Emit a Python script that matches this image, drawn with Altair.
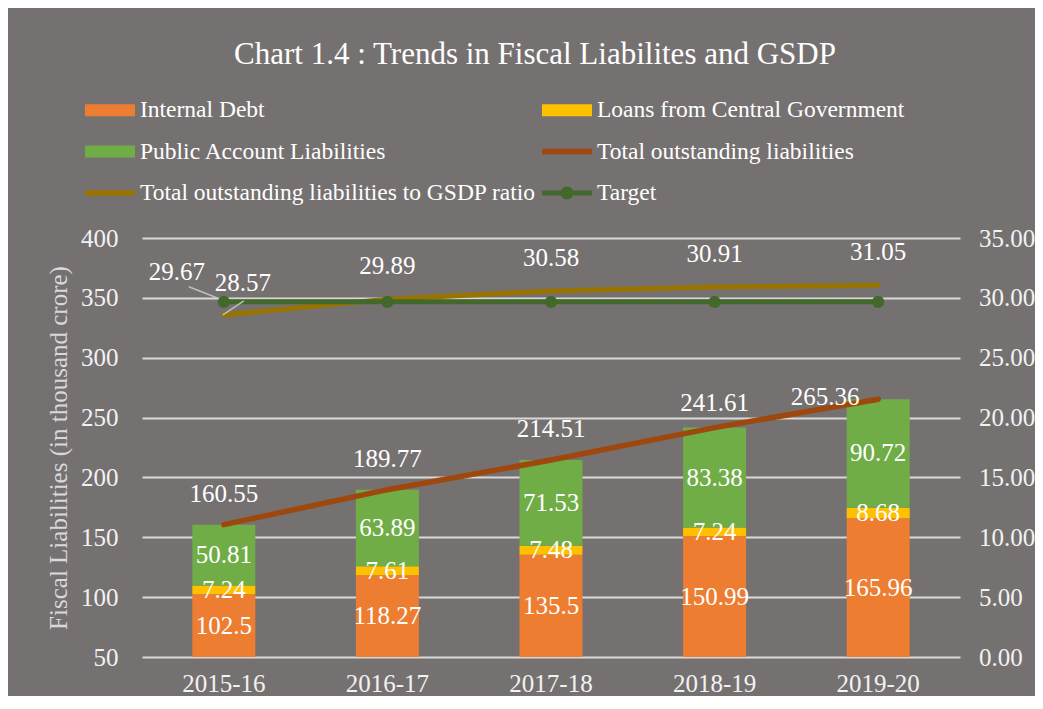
import altair as alt
import pandas as pd

# ---------------- data ----------------
years = ["2015-16", "2016-17", "2017-18", "2018-19", "2019-20"]
internal_debt = [102.5, 118.27, 135.5, 150.99, 165.96]
central_loans = [7.24, 7.61, 7.48, 7.24, 8.68]
public_account = [50.81, 63.89, 71.53, 83.38, 90.72]
total_liabilities = [160.55, 189.77, 214.51, 241.61, 265.36]
gsdp_ratio = [28.57, 29.89, 30.58, 30.91, 31.05]
target = [29.67, 29.67, 29.67, 29.67, 29.67]

series_names = [
    "Internal Debt",
    "Loans from Central Government",
    "Public Account Liabilities",
    "Total outstanding liabilities",
    "Total outstanding liabilities to GSDP ratio",
    "Target",
]
series_colors = ["#ED7D31", "#FFC000", "#70AD47", "#9E480E", "#997300", "#43682B"]
legend_shapes = [
    "M-1,-0.24H1V0.24H-1Z",
    "M-1,-0.24H1V0.24H-1Z",
    "M-1,-0.24H1V0.24H-1Z",
    "M-1,-0.11H1V0.11H-1Z",
    "M-1,-0.11H1V0.11H-1Z",
    "M-1,-0.1H1V0.1H-1ZM-0.26,0A0.26,0.26,0,1,1,0.26,0A0.26,0.26,0,1,1,-0.26,0Z",
]
left_ticks = [50, 100, 150, 200, 250, 300, 350, 400]
right_ticks = [0, 5, 10, 15, 20, 25, 30, 35]

chart_title = "Chart 1.4 : Trends in Fiscal Liabilites and GSDP"
left_title = "Fiscal Liabilities (in thousand crore)"

# ---------------- style ----------------
FONT = "Liberation Serif"
BG = "#767171"
TXT = "#FFFFFF"
AXT = "#F2F2F2"

bar_rows = []
stack_parts = [internal_debt, central_loans, public_account]
for i, yr in enumerate(years):
    for k, vals in enumerate(stack_parts):
        bar_rows.append({"year": yr, "series": series_names[k], "order": k,
                         "value": vals[i], "label": str(vals[i])})
bars_df = pd.DataFrame(bar_rows)

line_df = pd.DataFrame({
    "year": years,
    "total": total_liabilities,
    "ratio": gsdp_ratio,
    "target": target,
    "total_label": [str(v) for v in total_liabilities],
    "ratio_label": [str(v) for v in gsdp_ratio],
    "target_label": [str(v) for v in target],
})
legend_df = pd.DataFrame({"series": series_names})

x_scale = alt.Scale(paddingInner=0.615, paddingOuter=0.3077)
left_scale = alt.Scale(domain=[left_ticks[0], left_ticks[-1]])
right_scale = alt.Scale(domain=[right_ticks[0], right_ticks[-1]])
color_scale = alt.Scale(domain=series_names, range=series_colors)
shape_scale = alt.Scale(domain=series_names, range=legend_shapes)

x_axis = alt.Axis(labelAngle=0, domain=False, ticks=False, labelPadding=14,
                  labelFont=FONT, labelFontSize=25, labelColor=AXT, title=None)
left_axis = alt.Axis(values=left_ticks, grid=True, gridColor="#D9D9D9", gridWidth=2,
                     domain=False, ticks=False, labelPadding=24,
                     labelFont=FONT, labelFontSize=25, labelColor=AXT,
                     title=left_title, titleFont=FONT, titleFontSize=25,
                     titleFontWeight="normal", titleColor="#D9D9D9", titlePadding=9)
right_axis = alt.Axis(orient="right", values=right_ticks, format=".2f", grid=False,
                      domain=False, ticks=False, labelPadding=18.5,
                      labelFont=FONT, labelFontSize=25, labelColor=AXT, title=None)

legend_def = alt.Legend(title=None, orient="none", direction="horizontal",
                        legendX=-57, legendY=-153, columns=2,
                        columnPadding=6, rowPadding=4.5, labelFont=FONT, labelFontSize=23.5,
                        labelColor=TXT, labelLimit=700, symbolSize=2500, symbolStrokeWidth=0,
                        labelOffset=5, symbolOpacity=1)


def X():
    # the same axis definition in every layer so the shared x axis is kept
    return alt.X("year:N", sort=years, scale=x_scale, axis=x_axis)


def YL(field, axis=None):
    return alt.Y(field, scale=left_scale, axis=axis)


def YR(field, axis=None):
    return alt.Y(field, scale=right_scale, axis=axis)


# ---------------- liabilities (left axis) ----------------
stacked = alt.Chart(bars_df).transform_stack(
    stack="value", groupby=["year"], as_=["y0", "y1"],
    sort=[alt.SortField("order", order="ascending")],
).transform_calculate(mid=f"(max(datum.y0, {left_ticks[0]}) + datum.y1) / 2")

bars = stacked.mark_bar(clip=True).encode(
    x=X(),
    y=YL("y0:Q", left_axis),
    y2="y1:Q",
    color=alt.Color("series:N", scale=color_scale, legend=legend_def),
)
bar_labels = stacked.mark_text(font=FONT, fontSize=25, color=TXT).encode(
    x=X(), y=YL("mid:Q"), text="label:N")

line_base = alt.Chart(line_df)
total_line = line_base.mark_line(color=series_colors[3], strokeWidth=5.5,
                                 strokeCap="round").encode(x=X(), y=YL("total:Q"))

total_labels_a = line_base.transform_filter(
    alt.FieldOneOfPredicate(field="year", oneOf=years[:3])
).mark_text(font=FONT, fontSize=25, color=TXT, dy=-31).encode(
    x=X(), y=YL("total:Q"), text="total_label:N")
total_labels_b = line_base.transform_filter(
    alt.FieldEqualPredicate(field="year", equal=years[3])
).mark_text(font=FONT, fontSize=25, color=TXT, dy=-25).encode(
    x=X(), y=YL("total:Q"), text="total_label:N")
total_labels_c = line_base.transform_filter(
    alt.FieldEqualPredicate(field="year", equal=years[4])
).mark_text(font=FONT, fontSize=25, color=TXT, dx=-53, dy=-2).encode(
    x=X(), y=YL("total:Q"), text="total_label:N")

# ---------------- ratio (right axis) ----------------
ratio_line = line_base.mark_line(color=series_colors[4], strokeWidth=5,
                                 strokeCap="round").encode(x=X(), y=YR("ratio:Q", right_axis))
target_line = line_base.mark_line(color=series_colors[5], strokeWidth=5).encode(
    x=X(), y=YR("target:Q"))
target_pts = line_base.mark_circle(color=series_colors[5], size=150, opacity=1).encode(
    x=X(), y=YR("target:Q"))

ratio_labels_a = line_base.transform_filter(
    alt.FieldOneOfPredicate(field="year", oneOf=years[1:])
).mark_text(font=FONT, fontSize=25, color=TXT, dy=-33).encode(
    x=X(), y=YR("ratio:Q"), text="ratio_label:N")
ratio_labels_b = line_base.transform_filter(
    alt.FieldEqualPredicate(field="year", equal=years[0])
).mark_text(font=FONT, fontSize=25, color=TXT, dx=19, dy=-32).encode(
    x=X(), y=YR("ratio:Q"), text="ratio_label:N")
target_label = line_base.transform_filter(
    alt.FieldEqualPredicate(field="year", equal=years[0])
).mark_text(font=FONT, fontSize=25, color=TXT, dx=-47, dy=-30).encode(
    x=X(), y=YR("target:Q"), text="target_label:N")

first = line_base.transform_filter(alt.FieldEqualPredicate(field="year", equal=years[0]))
target_leader = first.mark_rule(color="#BFBFBF", strokeWidth=1.5, xOffset=-35, yOffset=-15,
                                x2Offset=-7, y2Offset=-4).encode(
    x=X(), x2="year:N", y=YR("target:Q"), y2="target:Q")
ratio_leader = first.mark_rule(color="#BFBFBF", strokeWidth=1.5, xOffset=20, yOffset=-14,
                               x2Offset=-1, y2Offset=0).encode(
    x=X(), x2="year:N", y=YR("ratio:Q"), y2="ratio:Q")

# legend-only layer: gives bar / line / line-with-marker symbols per series
legend_layer = alt.Chart(legend_df).mark_point(filled=True, opacity=0).encode(
    color=alt.Color("series:N", scale=color_scale, legend=legend_def),
    shape=alt.Shape("series:N", scale=shape_scale, legend=legend_def),
)

chart = alt.layer(
    bars, bar_labels, total_line, total_labels_a, total_labels_b, total_labels_c,
    ratio_line, target_line, target_pts, target_leader, ratio_leader,
    ratio_labels_a, ratio_labels_b, target_label, legend_layer,
).resolve_scale(y="independent").properties(
    width=818,
    height=419,
    title=alt.TitleParams(text=chart_title, font=FONT, fontSize=31, fontWeight="normal",
                          color=TXT, anchor="middle", dx=-16, dy=-10),
    autosize=alt.AutoSizeParams(type="none"),
    padding={"left": 134, "top": 230, "right": 75, "bottom": 39},
    background=BG,
).configure_view(strokeWidth=0)

chart.save("out.html", embed_options={"renderer": "svg", "actions": False})
